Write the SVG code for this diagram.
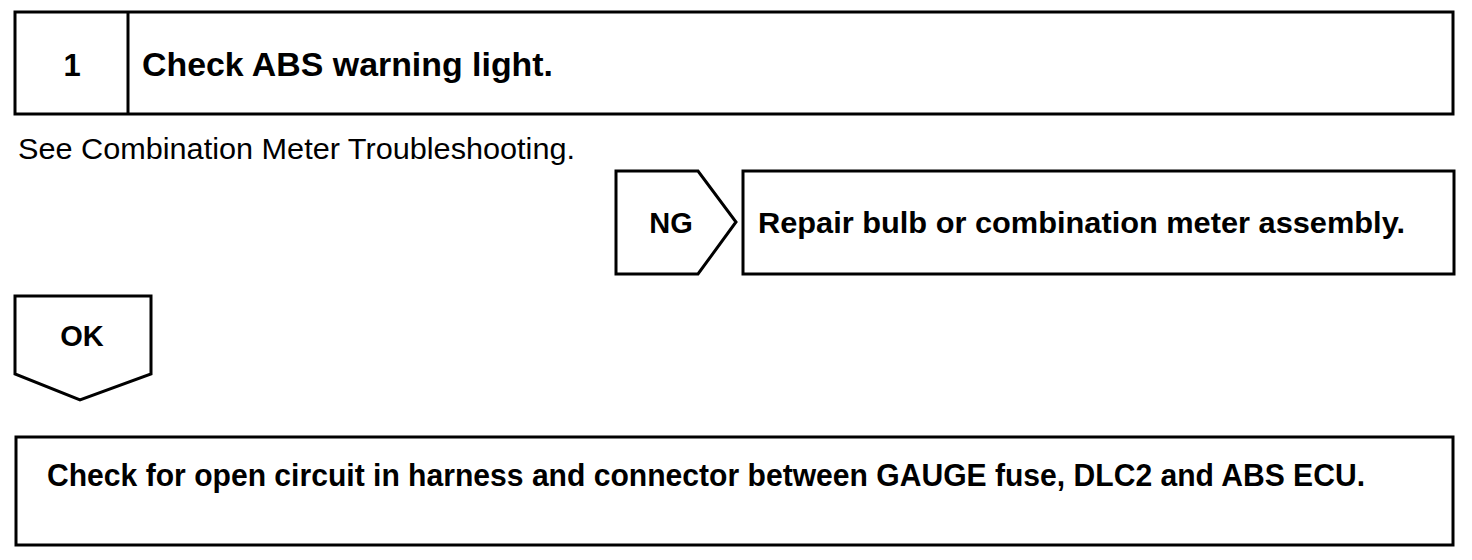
<svg xmlns="http://www.w3.org/2000/svg" width="1472" height="560" viewBox="0 0 1472 560">
<style>
.box{fill:#fff;stroke:#000;stroke-width:3}
.b{font-family:"Liberation Sans",Arial,sans-serif;font-weight:bold;fill:#000}
.r{font-family:"Liberation Sans",Arial,sans-serif;fill:#000}
</style>
<rect width="1472" height="560" fill="#fff"/>
<g id="step1">
<rect class="box" x="15" y="12" width="1438" height="102"/>
<line x1="128" y1="12" x2="128" y2="114" stroke="#000" stroke-width="3"/>
<text class="b" x="72" y="76" font-size="31" text-anchor="middle">1</text>
<text class="b" x="142" y="76" font-size="33" textLength="411" lengthAdjust="spacingAndGlyphs">Check ABS warning light.</text>
</g>
<g id="note">
<text class="r" x="18" y="159" font-size="30" textLength="557" lengthAdjust="spacingAndGlyphs">See Combination Meter Troubleshooting.</text>
</g>
<g id="ng">
<path class="box" d="M616,171 H698 L736,222 L698,274 H616 Z"/>
<text class="b" x="671" y="233" font-size="29" text-anchor="middle">NG</text>
</g>
<g id="repair">
<rect class="box" x="743" y="171" width="711" height="103"/>
<text class="b" x="758" y="233" font-size="30" textLength="647" lengthAdjust="spacingAndGlyphs">Repair bulb or combination meter assembly.</text>
</g>
<g id="ok">
<path class="box" d="M15,296 H151 V374 L80,400 L15,374 Z"/>
<text class="b" x="82" y="346" font-size="29" text-anchor="middle">OK</text>
</g>
<g id="check2">
<rect class="box" x="16" y="437" width="1437" height="108"/>
<text class="b" x="47" y="486" font-size="31" textLength="1318" lengthAdjust="spacingAndGlyphs">Check for open circuit in harness and connector between GAUGE fuse, DLC2 and ABS ECU.</text>
</g>
<g id="connectors"></g>
</svg>
